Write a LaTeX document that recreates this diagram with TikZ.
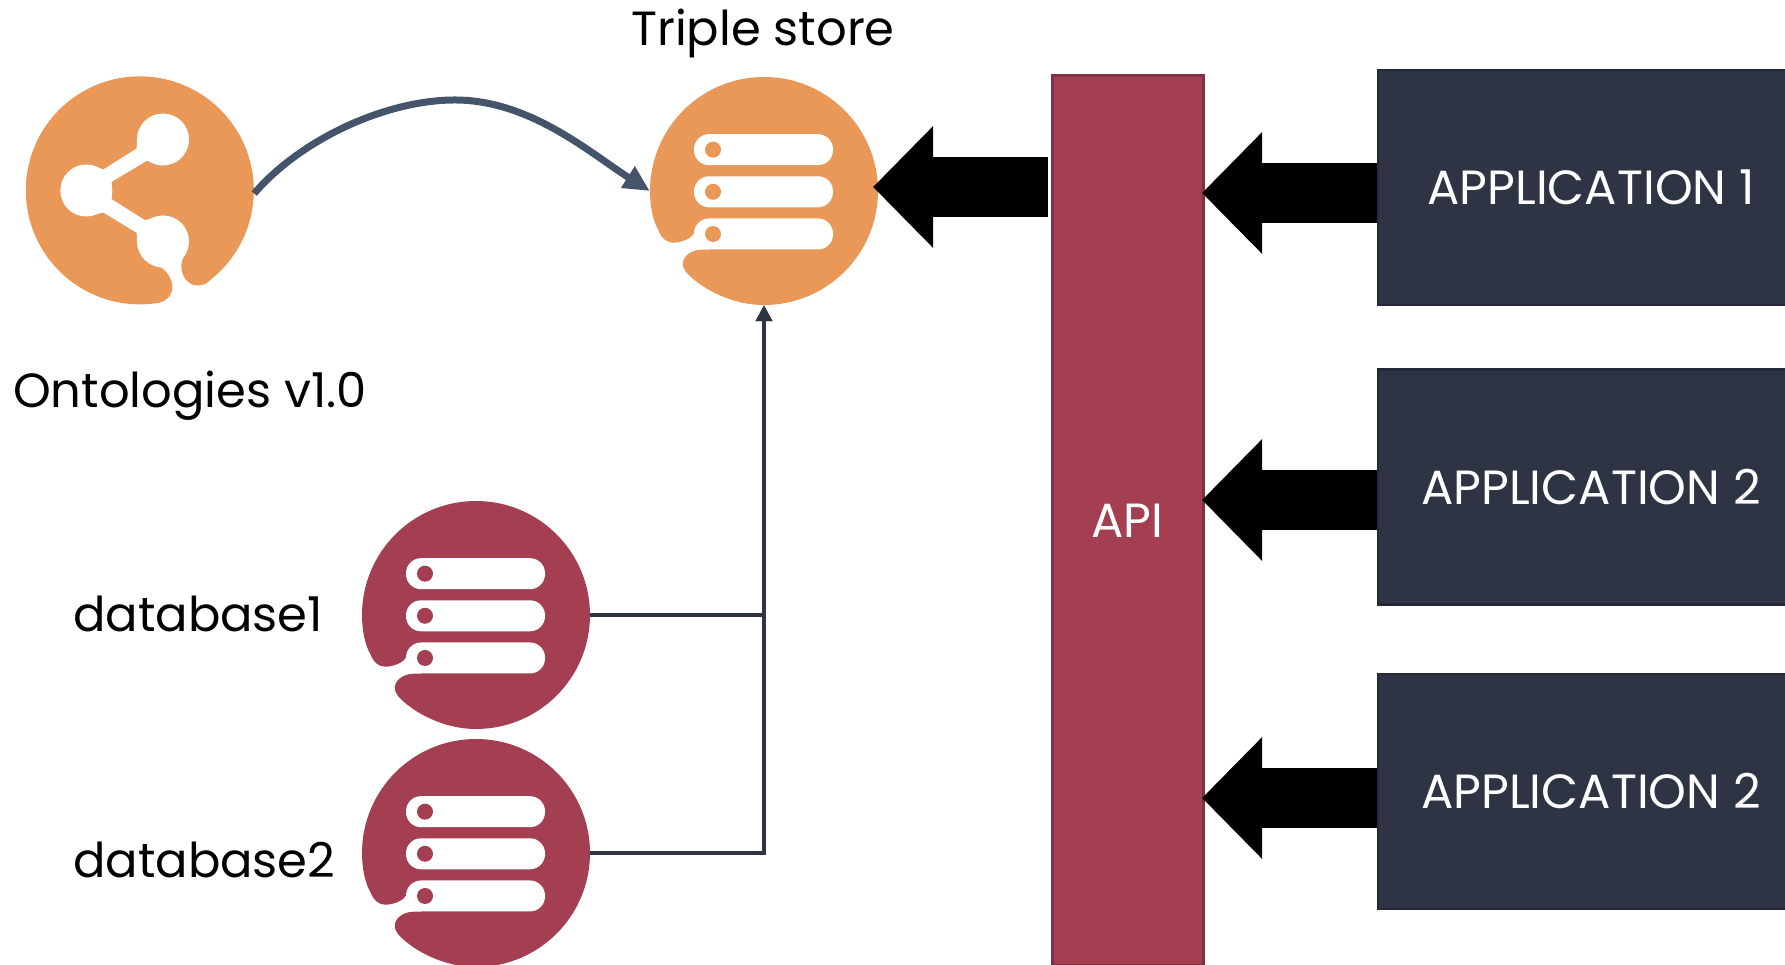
\documentclass[tikz,border=0pt]{standalone}
\usepackage{fontspec}
\setmainfont{Poppins}
\usetikzlibrary{arrows.meta}
\definecolor{iconorange}{HTML}{E99857}
\definecolor{iconred}{HTML}{A43F52}
\definecolor{apiborder}{HTML}{7F3044}
\definecolor{appdark}{HTML}{2F3444}
\definecolor{appborder}{HTML}{23283A}
\definecolor{curveblue}{HTML}{44546A}
\tikzset{
    hub/.style={circle, minimum size=228pt, inner sep=0pt},
    label/.style={font=\fontsize{48}{56}\selectfont, text=black, inner sep=0pt},
    appbox/.style={rectangle, fill=appdark, draw=appborder, line width=2.5pt, minimum width=426pt, minimum height=235pt, text=white, font=\fontsize{48}{56}\selectfont},
    apibox/.style={rectangle, fill=iconred, draw=apiborder, line width=3pt, minimum width=151pt, minimum height=890pt},
    bigarrow/.style={-{Triangle[length=60pt,width=118pt]}, line width=60pt, black},
    link/.style={-{Triangle[length=16pt,width=16pt]}, line width=3.5pt, appdark},
    bar/.style={fill=white, rounded corners=15pt},
    pics/storeicon/.style={code={
        \fill[#1] (0,-114) arc[start angle=-90,end angle=180,radius=114]
            .. controls (-114,-15) and (-111,-30) .. (-105.7,-39)
            .. controls (-102,-48) and (-97,-51.7) .. (-90.7,-51.7)
            .. controls (-82,-51.7) and (-72,-47) .. (-70.7,-43)
            -- (-55,-43) -- (-55,-58.7) -- (-62,-58.7)
            .. controls (-76,-58.7) and (-87,-70) .. (-78,-81)
            .. controls (-66,-95) and (-35,-114) .. (0,-114) -- cycle;
        \foreach \bary in {41.3,-0.8,-43} {
            \fill[bar] (-70,\bary-15.5) rectangle (69,\bary+15.5);
            \fill[#1] (-51,\bary) circle (8);
        }
    }},
    pics/shareicon/.style={code={
        \fill[#1] (70,-89.7) arc[start angle=-52,end angle=278.4,radius=114]
            .. controls (28,-112) and (36,-100) .. (31,-90)
            .. controls (28,-81) and (22,-78) .. (20,-76.3)
            .. controls (8,-72) and (-2.7,-63) .. (-2.7,-53)
            -- (23,-51) -- (43,-68)
            .. controls (38,-78) and (44,-95) .. (58,-95)
            .. controls (63,-95) and (67,-93) .. (70,-89.7) -- cycle;
        \fill[white] (-36.7,21) -- (-3.3,42) -- (-3,52) -- (23,51) -- (23,25) -- (6.7,29.7)
            -- (-28.3,8.7) -- (-28.3,-8.7) -- (5,-29.7) -- (23,-25) -- (23,-51) -- (-3,-52)
            -- (-3.3,-42.3) -- (-36.7,-22) -- (-45,-24) -- (-53.7,0) -- (-45,24) -- cycle;
        \foreach \dotx/\doty in {23/51,-53.7/0,23/-51} {
            \fill[white] (\dotx,\doty) circle (26);
        }
    }}
}
\begin{document}
\begin{tikzpicture}[x=1pt, y=1pt]
    \clip (0,0) rectangle (1785,965);
    \fill[white] (0,0) rectangle (1785,965);

    \node[hub] (ontologies) at (140,774.5) {};
    \node[hub] (store) at (764,774) {};
    \node[hub] (db1) at (476,350) {};
    \node[hub] (db2) at (476,112) {};
    \pic at (ontologies) {shareicon=iconorange};
    \pic at (store) {storeicon=iconorange};
    \pic at (db1) {storeicon=iconred};
    \pic at (db2) {storeicon=iconred};

    \node[label] (storelabel) at (763,931.5) {Triple store};
    \node[label, anchor=west] (ontologieslabel) at (13,569) {Ontologies v1.0};
    \node[label, anchor=west] (db1label) at (73,351) {database1};
    \node[label, anchor=west] (db2label) at (73,105) {database2};

    \node[apibox] (api) at (1127.5,444) {};
    \node[text=white, font=\fontsize{48}{56}\selectfont, inner sep=0pt] (apilabel) at (1127.5,444) {API};
    \node[appbox] (app1) at (1591,777.5) {APPLICATION 1};
    \node[appbox] (app2) at (1591,478) {APPLICATION 2};
    \node[appbox] (app3) at (1591,173.5) {APPLICATION 2};

    \coordinate (storein) at (873,778);
    \coordinate (apiin1) at (1202,772);
    \coordinate (apiin2) at (1202,465);
    \coordinate (apiin3) at (1202,167);
    \draw[bigarrow] ([xshift=-3pt]api.west |- storein) -- (storein);
    \draw[bigarrow] (app1.west |- apiin1) -- (apiin1);
    \draw[bigarrow] (app2.west |- apiin2) -- (apiin2);
    \draw[bigarrow] (app3.west |- apiin3) -- (apiin3);

    \draw[link] (db1.east) -| (store.south);
    \draw[link] (db2.east) -| (store.south);
    \draw[-{Triangle[length=26pt,width=24pt]}, line width=7pt, curveblue] ([yshift=-3pt]ontologies.east)
        .. controls (300,825) and (385,865) .. (455,865)
        .. controls (530,865) and (590,812) .. (store.west);
\end{tikzpicture}
\end{document}
